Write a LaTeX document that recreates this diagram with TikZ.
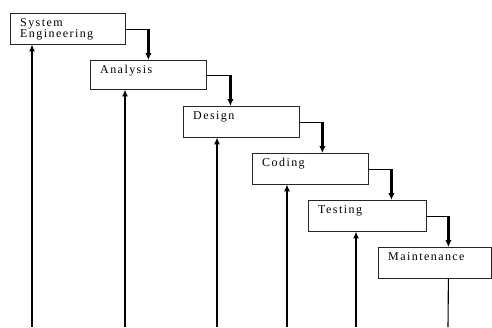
\documentclass[tikz,border=0pt]{standalone}
\usepackage{fontspec}
\newfontfamily\boxfont[LetterSpace=12]{Liberation Serif}
\usetikzlibrary{arrows.meta,positioning}
\tikzset{
 b/.style
  = {rectangle, draw=black!85, thin, anchor=north west, align=left,
     text width=96pt, inner xsep=10pt, inner ysep=0pt,
     text height=13pt, text depth=18pt,
     font={\boxfont\fontsize{12}{11.5}\selectfont}},
 hl/.style
  = {draw, thin},
 vl/.style
  = {draw, line width=2.2pt, -{Latex[length=7pt,width=6.5pt]}},
 ul/.style
  = {draw, -{Latex[length=7pt,width=6pt]}},
}

\begin{document}
\begin{tikzpicture}[x=1pt,y=-1pt]
    \useasboundingbox (0,0) rectangle (492,327);

    \node [b, text width=95pt] (sys) at (10,13) {System\\Engineering};
    \node [b, text depth=16pt] (ana) at (90,60) {Analysis};
    \node [b] (des) at (183,106) {Design};
    \node [b] (cod) at (252,153) {Coding};
    \node [b, text width=98pt] (tes) at (308,200) {Testing};
    \node [b, text width=93pt] (mai) at (378,247) {Maintenance};

    % step down to the next phase
    \path [hl] (sys.east) -- ++(23,0) coordinate (k1);
    \path [vl] (k1) -- (k1 |- ana.north);
    \path [hl] (ana.east) -- ++(24,0) coordinate (k2);
    \path [vl] (k2) -- (k2 |- des.north);
    \path [hl] (des.east) -- ++(23,0) coordinate (k3);
    \path [vl] (k3) -- (k3 |- cod.north);
    \path [hl] (cod.east) -- ++(23,0) coordinate (k4);
    \path [vl] (k4) -- (k4 |- tes.north);
    \path [hl] (tes.east) -- ++(22,0) coordinate (k5);
    \path [vl] (k5) -- (k5 |- mai.north);

    % feedback from below
    \coordinate (u1) at (32,327);
    \coordinate (u2) at (125,327);
    \coordinate (u3) at (217,327);
    \coordinate (u4) at (287,327);
    \coordinate (u5) at (356,327);
    \coordinate (u6) at (448,327);
    \path [ul, line width=1.8pt] (u1) -- (u1 |- sys.south);
    \path [ul, line width=1.5pt] (u2) -- (u2 |- ana.south);
    \path [ul, line width=1.3pt] (u3) -- (u3 |- des.south);
    \path [ul, line width=1.2pt] (u4) -- (u4 |- cod.south);
    \path [ul, line width=1.8pt] (u5) -- (u5 |- tes.south);
    \path [draw, line width=1.1pt] (k5 |- mai.south) -- (u6);
\end{tikzpicture}
\end{document}
